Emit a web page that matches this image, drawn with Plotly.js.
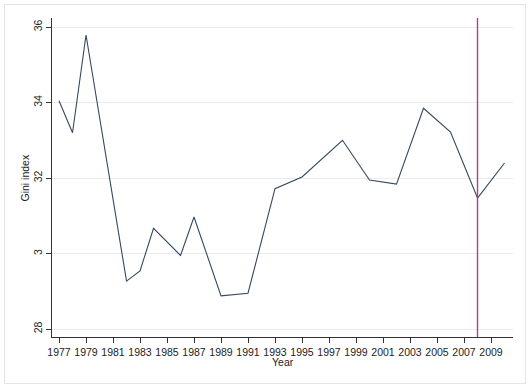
<!DOCTYPE html>
<html>
<head>
<meta charset="utf-8">
<script src="https://cdn.plot.ly/plotly-3.0.1.min.js"></script>
<style>
  html, body { margin: 0; padding: 0; background: #fff; }
  #wrap { position: relative; width: 530px; height: 388px; }
  #chart { width: 530px; height: 388px; }
  #frame { position: absolute; left: 4px; top: 4px; width: 520px; height: 378px; border: 1px solid #e4e4e4; pointer-events: none; }
</style>
</head>
<body>
<div id="wrap"><div id="chart"></div><div id="frame"></div></div>
<script>
const years = [1977, 1978, 1979, 1982, 1983, 1984, 1986, 1987, 1989, 1990, 1991, 1993, 1995, 1998, 2000, 2002, 2004, 2006, 2008, 2010];
const gini  = [34.05, 33.2, 35.79, 29.27, 29.54, 30.67, 29.95, 30.97, 28.88, 28.92, 28.95, 31.72, 32.03, 33.0, 31.95, 31.84, 33.85, 33.22, 31.47, 32.4];
const xTickVals = [1977, 1979, 1981, 1983, 1985, 1987, 1989, 1991, 1993, 1995, 1997, 1999, 2001, 2003, 2005, 2007, 2009];
const xTickText = ['1977','1979','1981','1983','1985','1987','1989','1991','1993','1995','1997','1999','2001','2003','2005','2007','2009'];
const yTickVals = [28, 30, 32, 34, 36];
const yTickText = ['28', '3', '32', '34', '36'];
const eventYear = [2008];

const font = 'Liberation Sans, Arial, sans-serif';

const trace = {
  x: years, y: gini, type: 'scatter', mode: 'lines',
  line: { color: '#34495f', width: 1.1 },
  hoverinfo: 'skip'
};

const layout = {
  width: 530, height: 388,
  margin: { l: 52, r: 17, t: 18, b: 51 },
  paper_bgcolor: 'rgba(0,0,0,0)', plot_bgcolor: '#fff',
  showlegend: false,
  font: { family: font, size: 10.5, color: '#222' },
  xaxis: {
    range: [1976.48, 2010.63],
    tickmode: 'array', tickvals: xTickVals, ticktext: xTickText,
    ticks: 'outside', ticklen: 5, tickwidth: 1, tickcolor: '#333',
    showline: true, linecolor: '#333', linewidth: 1,
    showgrid: false, zeroline: false,
    tickfont: { family: font, size: 10.5, color: '#222' }
  },
  yaxis: {
    range: [27.79, 36.24],
    tickmode: 'array', tickvals: yTickVals, ticktext: yTickText,
    tickangle: -90,
    ticks: 'outside', ticklen: 5, tickwidth: 1, tickcolor: '#333',
    showline: true, linecolor: '#333', linewidth: 1,
    showgrid: true, gridcolor: '#ebebeb', gridwidth: 1,
    zeroline: false,
    tickfont: { family: font, size: 10.5, color: '#222' }
  },
  shapes: eventYear.map(v => ({
    type: 'line', xref: 'x', yref: 'paper', x0: v, x1: v, y0: 0, y1: 1,
    line: { color: '#b3407a', width: 1.4 }
  })),
  annotations: [
    { text: 'Year', xref: 'paper', yref: 'paper', x: 0.5, y: -0.078, xanchor: 'center', yanchor: 'middle',
      showarrow: false, font: { family: font, size: 10.5, color: '#222' } },
    { text: 'Gini index', xref: 'paper', yref: 'paper', x: -0.0586, y: 0.5, xanchor: 'center', yanchor: 'middle',
      textangle: -90, showarrow: false, font: { family: font, size: 10.5, color: '#222' } }
  ]
};

Plotly.newPlot('chart', [trace], layout, { staticPlot: true, displayModeBar: false });
</script>
</body>
</html>
